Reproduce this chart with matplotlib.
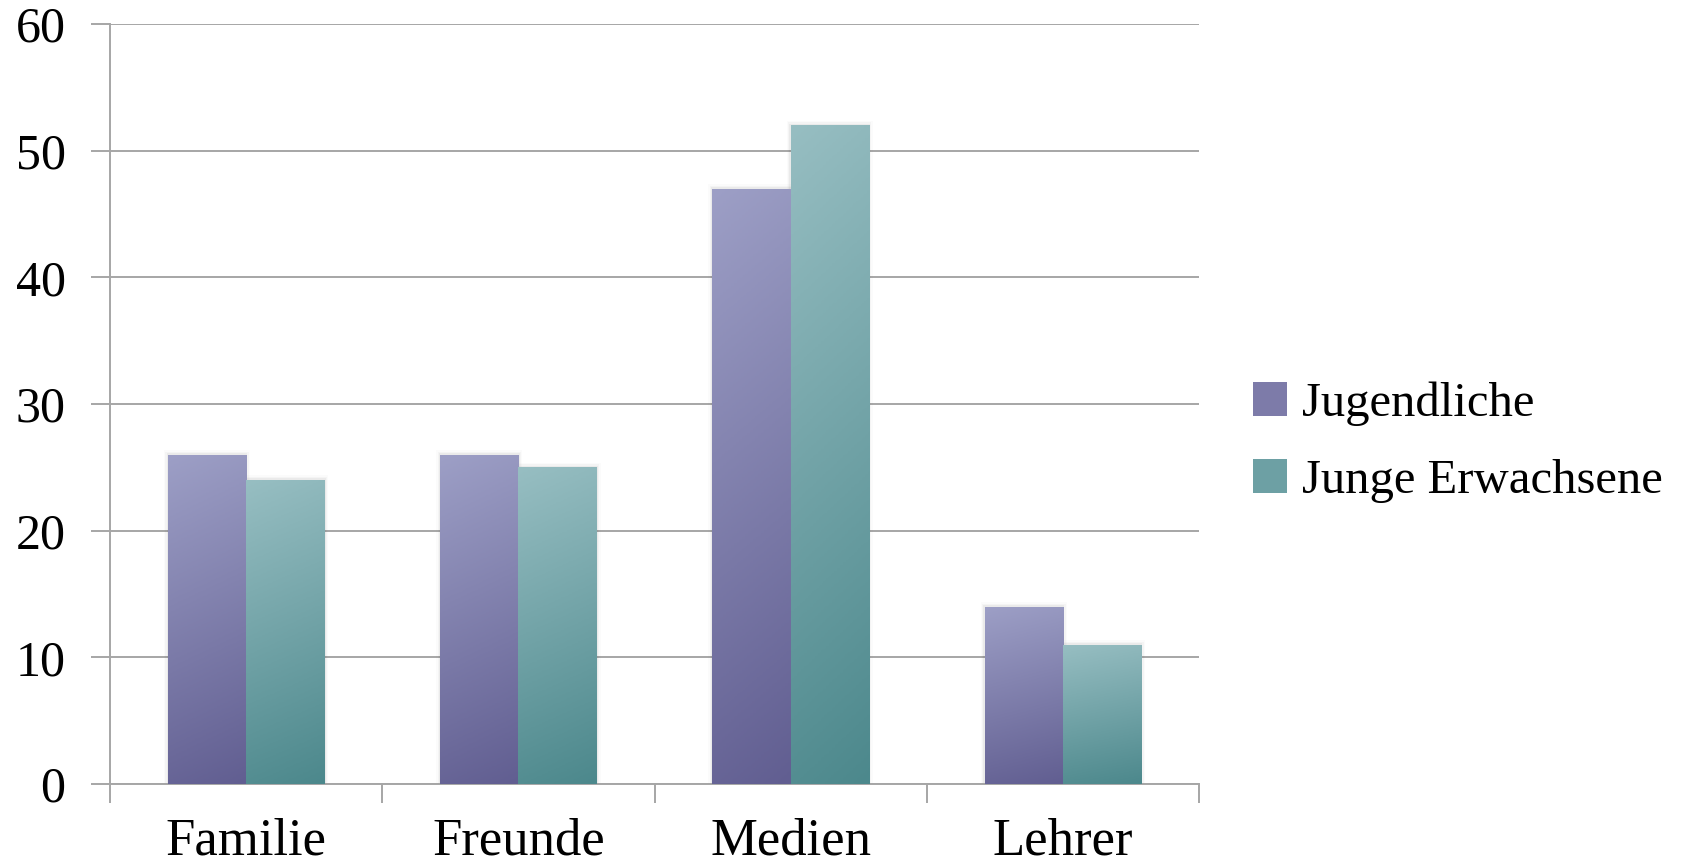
import matplotlib
matplotlib.use("Agg")
import matplotlib.pyplot as plt
import numpy as np
from matplotlib.colors import LinearSegmentedColormap
from matplotlib.patches import Patch

categories = ["Familie", "Freunde", "Medien", "Lehrer"]
jugendliche = [26, 26, 47, 14]
junge_erwachsene = [24, 25, 52, 11]
series_names = ["Jugendliche", "Junge Erwachsene"]
yticks = [0, 10, 20, 30, 40, 50, 60]

# gradient endpoints (top, bottom)
purple = ("#9d9fc6", "#615e91")
teal = ("#97bec2", "#4c888c")

plt.rcParams["font.family"] = ["Liberation Serif", "DejaVu Serif"]
FS = 38

fig = plt.figure(figsize=(17.04, 8.65), dpi=100)
ax = fig.add_axes([110 / 1704, 1 - 784 / 865, (1199 - 110) / 1704, (784 - 24) / 865])

x = np.arange(len(categories))
w = 0.287


def gradient_bars(xs, vals, cols):
    bars = ax.bar(xs, vals, w, facecolor="none", edgecolor="none", zorder=3)
    cmap = LinearSegmentedColormap.from_list("g", [cols[1], cols[0]])
    for b in bars:
        x0, h, bw = b.get_x(), b.get_height(), b.get_width()
        # soft shadow
        for k, a in enumerate([0.05, 0.03, 0.015]):
            ax.bar(x0 + bw / 2, h + 0.12 * (k + 1), bw + 0.01 * (k + 1),
                   color="#303030", alpha=a, zorder=2.5, linewidth=0)
        yy, xx = np.mgrid[0:1:200j, 0:1:50j]
        grad = yy * 0.9 + (1 - xx) * 0.1
        im = ax.imshow(grad, extent=(x0, x0 + bw, 0, h), origin="lower",
                       cmap=cmap, aspect="auto", zorder=3, vmin=0, vmax=1)
        im.set_clip_path(b)
    return bars


gradient_bars(x - w / 2, jugendliche, purple)
gradient_bars(x + w / 2, junge_erwachsene, teal)

ax.set_xlim(-0.5, len(categories) - 0.5)
ax.set_ylim(0, 60)
ax.set_yticks(yticks)
ax.set_yticklabels([str(v) for v in yticks], fontsize=36)
ax.set_xticks(x)
ax.set_xticklabels(categories, fontsize=FS)
ax.set_xticks(np.arange(len(categories) + 1) - 0.5, minor=True)

ax.grid(axis="y", color="#a6a6a6", linewidth=1.4, zorder=1)
ax.set_axisbelow(True)
for s in ["top", "right"]:
    ax.spines[s].set_visible(False)
for s in ["left", "bottom"]:
    ax.spines[s].set_color("#a6a6a6")
    ax.spines[s].set_linewidth(1.4)
ax.tick_params(axis="y", length=14, width=1.4, color="#a6a6a6", pad=18)
ax.tick_params(axis="x", which="major", length=0, pad=24)
ax.tick_params(axis="x", which="minor", length=14, width=1.4, color="#a6a6a6")

handles = [Patch(facecolor="#7d7ba9", label=series_names[0]),
           Patch(facecolor="#6da0a4", label=series_names[1])]
fig.legend(handles=handles, loc="center left", bbox_to_anchor=(1253 / 1704, 1 - 442 / 865),
           frameon=False, fontsize=35, handlelength=0.7, handleheight=0.7,
           handletextpad=0.3, labelspacing=0.68, borderpad=0, borderaxespad=0)

fig.savefig("out.png", dpi=100)
